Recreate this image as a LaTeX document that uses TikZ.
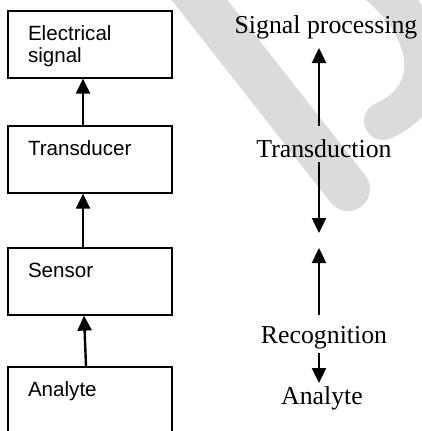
\documentclass[tikz,border=0pt]{standalone}
\usepackage{fontspec}
\setmainfont{Liberation Serif}
\newfontfamily\boxfont{Liberation Sans}
\usetikzlibrary{arrows.meta}

\begin{document}
\begin{tikzpicture}[
    x=1pt, y=-1pt,
    stage/.style={rectangle, draw, line width=1.6pt, anchor=north, text width=124pt, align=left,
        inner xsep=20pt, inner ysep=15pt, text height=15pt, text depth=22pt,
        font=\boxfont\fontsize{20.6}{22}\selectfont},
    phase/.style={inner sep=0pt, anchor=base, font=\fontsize{25.8}{30}\selectfont},
    flow/.style={-{Triangle[length=15pt,width=14pt]}, line width=2.4pt},
    wmark/.style={draw=black!14, line width=44pt, line cap=round}
]
    \useasboundingbox (0,0) rectangle (422,431);

    % Watermark
    \draw[wmark] (176,-30) -- (348,189);
    \draw[wmark, line width=38pt] (368,-22) .. controls (428,20) and (448,92) .. (383,121);

    % Stage boxes
    \node[stage] (elec) at (90,10) {Electrical\\signal};
    \node[stage] (trans) at (90,125) {Transducer};
    \node[stage] (sens) at (90,247) {Sensor};
    \node[stage, text depth=30pt] (anal) at (90,366) {Analyte};

    % Box arrows
    \draw[flow] ([xshift=-7pt]trans.north) -- ([xshift=-7pt]elec.south);
    \draw[flow] ([xshift=-7pt]sens.north) -- ([xshift=-7pt]trans.south);
    \draw[flow] ([xshift=-4pt]anal.north) -- ([xshift=-6pt]sens.south);

    % Process labels
    \node[phase] (sig) at (326,33) {Signal processing};
    \node[phase] (trd) at (324,157) {Transduction};
    \node[phase] (rec) at (324,343) {Recognition};
    \node[phase] (ana) at (322,404) {Analyte};

    % Process arrows
    \draw[flow] ([xshift=-5pt,yshift=31pt]trd.base) -- ([xshift=-7pt,yshift=-15pt]sig.base);
    \draw[flow] ([xshift=-5pt,yshift=-5pt]trd.base) -- ([xshift=-5pt,yshift=-76pt]trd.base);
    \draw[flow] ([xshift=-5pt,yshift=28pt]rec.base) -- ([xshift=-5pt,yshift=95pt]rec.base);
    \draw[flow] ([xshift=-5pt,yshift=-10pt]rec.base) -- ([xshift=-3pt,yshift=21pt]ana.base);
\end{tikzpicture}
\end{document}
